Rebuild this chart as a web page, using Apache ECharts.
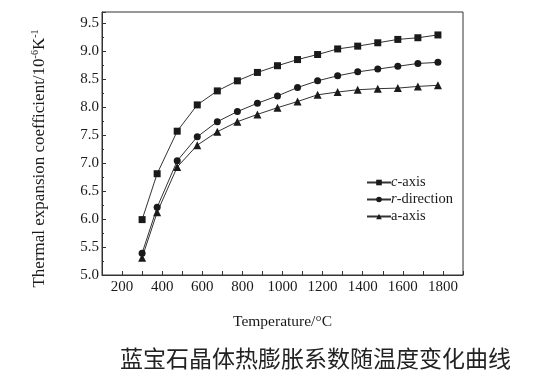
<!DOCTYPE html>
<html>
<head>
<meta charset="utf-8">
<script src="https://cdn.jsdelivr.net/npm/echarts@6/dist/echarts.min.js"></script>
<style>html,body{margin:0;padding:0;background:#fff}#c{width:539px;height:389px}</style>
</head>
<body>
<div id="c"></div>
<script>
const temps = [300, 375, 475, 575, 675, 775, 875, 975, 1075, 1175, 1275, 1375, 1475, 1575, 1675, 1775];
const cAxis = [5.99, 6.81, 7.57, 8.04, 8.29, 8.47, 8.62, 8.74, 8.85, 8.94, 9.04, 9.09, 9.15, 9.21, 9.24, 9.29];
const rDirection = [5.39, 6.21, 7.04, 7.47, 7.74, 7.92, 8.07, 8.20, 8.35, 8.47, 8.56, 8.63, 8.68, 8.73, 8.78, 8.80];
const aAxis = [5.31, 6.12, 6.93, 7.32, 7.56, 7.74, 7.87, 7.99, 8.10, 8.22, 8.27, 8.31, 8.33, 8.34, 8.37, 8.39];
const seriesNames = ['c-axis', 'r-direction', 'a-axis'];
const xName = 'Temperature/\u00B0C';
const caption = '蓝宝石晶体热膨胀系数随温度变化曲线';

const serif = '"Liberation Serif", "DejaVu Serif", serif';
const ink = '#1a1a1a';
function pairs(vals) { return temps.map((t, i) => [t, vals[i]]); }

const chart = echarts.init(document.getElementById('c'), null, {renderer: 'canvas'});
const lineSeries = (name, vals, symbol, size) => ({
  name, type: 'line', data: pairs(vals), symbol, symbolSize: size,
  itemStyle: {color: ink}, lineStyle: {color: '#333', width: 1},
  animation: false
});
chart.setOption({
  backgroundColor: '#fff',
  title: {
    text: caption, left: 115, top: 342,
    textStyle: {fontFamily: '"Noto Sans CJK SC", sans-serif', fontWeight: 'normal', fontSize: 23, color: '#222'}
  },
  grid: {left: 102, right: 76, top: 12, bottom: 114, show: true, borderColor: '#333', borderWidth: 1},
  legend: {
    orient: 'vertical', left: 361, top: 170, itemWidth: 24, itemHeight: 7, itemGap: 2,
    data: seriesNames,
    formatter: function (n) {
      if (n === 'c-axis') return '{i|c}{t|-axis}';
      if (n === 'r-direction') return '{i|r}{t|-direction}';
      return '{t|a-axis}';
    },
    textStyle: {
      fontFamily: serif, fontSize: 14.5, color: ink, padding: [0, 0, 0, -5],
      rich: {
        i: {fontFamily: serif, fontSize: 14.5, fontStyle: 'italic', color: ink},
        t: {fontFamily: serif, fontSize: 14.5, color: ink}
      }
    }
  },
  xAxis: {
    type: 'value', min: 100, max: 1900, interval: 100,
    name: xName, nameLocation: 'middle', nameGap: 39,
    nameTextStyle: {fontFamily: serif, fontSize: 15.5, color: ink},
    axisLine: {lineStyle: {color: '#333', width: 1}},
    axisTick: {inside: true, length: 4, lineStyle: {color: '#333'}},
    axisLabel: {
      fontFamily: serif, fontSize: 15, color: ink, margin: 5,
      formatter: v => (v % 200 === 0 ? String(v) : '')
    },
    splitLine: {show: false}
  },
  yAxis: {
    type: 'value', min: 5, max: 9.7, interval: 0.5,
    name: '{a|Thermal expansion coefficient/10}{s|-6}{a|K}{s|-1}',
    nameLocation: 'middle', nameGap: 53, nameRotate: 90,
    nameTextStyle: {
      fontFamily: serif, fontSize: 17, color: ink, padding: [0, 30, 0, 0],
      rich: {
        a: {fontFamily: serif, fontSize: 17, color: ink},
        s: {fontFamily: serif, fontSize: 10, color: ink, verticalAlign: 'top', padding: [0, 0, 9, 0]}
      }
    },
    axisLine: {show: true, lineStyle: {color: '#333', width: 1}},
    axisTick: {inside: true, length: 4, lineStyle: {color: '#333'}},
    minorTick: {show: true, splitNumber: 2, length: 2, lineStyle: {color: '#333'}},
    axisLabel: {
      fontFamily: serif, fontSize: 15, color: ink, margin: 3, showMaxLabel: false,
      formatter: v => v.toFixed(1)
    },
    splitLine: {show: false}
  },
  series: [
    lineSeries(seriesNames[0], cAxis, 'rect', 7),
    lineSeries(seriesNames[1], rDirection, 'circle', 7),
    lineSeries(seriesNames[2], aAxis, 'triangle', 8)
  ],
  animation: false
});
</script>
</body>
</html>
